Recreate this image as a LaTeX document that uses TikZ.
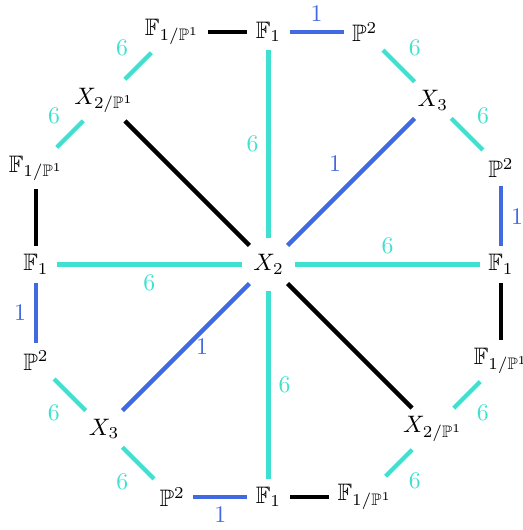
\documentclass[tikz,border=0pt]{standalone}
\usepackage{amssymb}
\definecolor{tq}{RGB}{64,224,208}
\definecolor{rb}{RGB}{65,105,225}
\begin{document}
\begin{tikzpicture}[x=0.42pt,y=0.42pt,
  tqe/.style={tq, line width=1.8pt},
  rbe/.style={rb, line width=1.8pt},
  bke/.style={black, line width=1.8pt},
  hub/.style={circle, inner sep=2.5pt}]
\useasboundingbox (-268.5,-265.5) rectangle (254.5,264.5);
\def\s{96.3} \def\R{232.5} \def\d{164.4}
\node[hub] (X2) at (0,0) {$X_2$};
\node (F1t) at (0,\R) {$\mathbb{F}_1$};
\node (P2t) at (\s,\R) {$\mathbb{P}^2$};
\node (Ft) at (-\s,\R) {$\mathbb{F}_{1/\mathbb{P}^1}$};
\node (X3a) at (\d,\d) {$X_3$};
\node (X2a) at (-\d,\d) {$X_{2/\mathbb{P}^1}$};
\node (P2r) at (\R,\s) {$\mathbb{P}^2$};
\node (F1r) at (\R,0) {$\mathbb{F}_1$};
\node (Fr) at (\R,-\s) {$\mathbb{F}_{1/\mathbb{P}^1}$};
\node (X2b) at (\d,-\d) {$X_{2/\mathbb{P}^1}$};
\node (Fb) at (\s,-\R) {$\mathbb{F}_{1/\mathbb{P}^1}$};
\node (F1b) at (0,-\R) {$\mathbb{F}_1$};
\node (P2b) at (-\s,-\R) {$\mathbb{P}^2$};
\node (X3b) at (-\d,-\d) {$X_3$};
\node (P2l) at (-\R,-\s) {$\mathbb{P}^2$};
\node (F1l) at (-\R,0) {$\mathbb{F}_1$};
\node (Fl) at (-\R,\s) {$\mathbb{F}_{1/\mathbb{P}^1}$};
% perimeter
\draw[bke] (Ft) -- (F1t);
\draw[rbe] (F1t) -- (P2t) node[midway,above] {1};
\draw[tqe] (P2t) -- (X3a) node[midway,above right] {6};
\draw[tqe] (X3a) -- (P2r) node[midway,above right] {6};
\draw[rbe] (P2r) -- (F1r) node[midway,right] {1};
\draw[bke] (F1r) -- (Fr);
\draw[tqe] (Fr) -- (X2b) node[midway,below right] {6};
\draw[tqe] (X2b) -- (Fb) node[midway,below right] {6};
\draw[bke] (Fb) -- (F1b);
\draw[rbe] (F1b) -- (P2b) node[midway,below] {1};
\draw[tqe] (P2b) -- (X3b) node[midway,below left] {6};
\draw[tqe] (X3b) -- (P2l) node[midway,below left] {6};
\draw[rbe] (P2l) -- (F1l) node[midway,left] {1};
\draw[bke] (F1l) -- (Fl);
\draw[tqe] (Fl) -- (X2a) node[midway,above left] {6};
\draw[tqe] (X2a) -- (Ft) node[midway,above left] {6};
% spokes
\draw[tqe] (X2) -- (F1t) node[midway,left] {6};
\draw[rbe] (X2) -- (X3a) node[midway,above left] {1};
\draw[tqe] (X2) -- (F1r) node[midway,above] {6};
\draw[bke] (X2) -- (X2b);
\draw[tqe] (X2) -- (F1b) node[midway,right] {6};
\draw[rbe] (X2) -- (X3b) node[midway,right] {1};
\draw[tqe] (X2) -- (F1l) node[midway,below] {6};
\draw[bke] (X2) -- (X2a);
\end{tikzpicture}
\end{document}
